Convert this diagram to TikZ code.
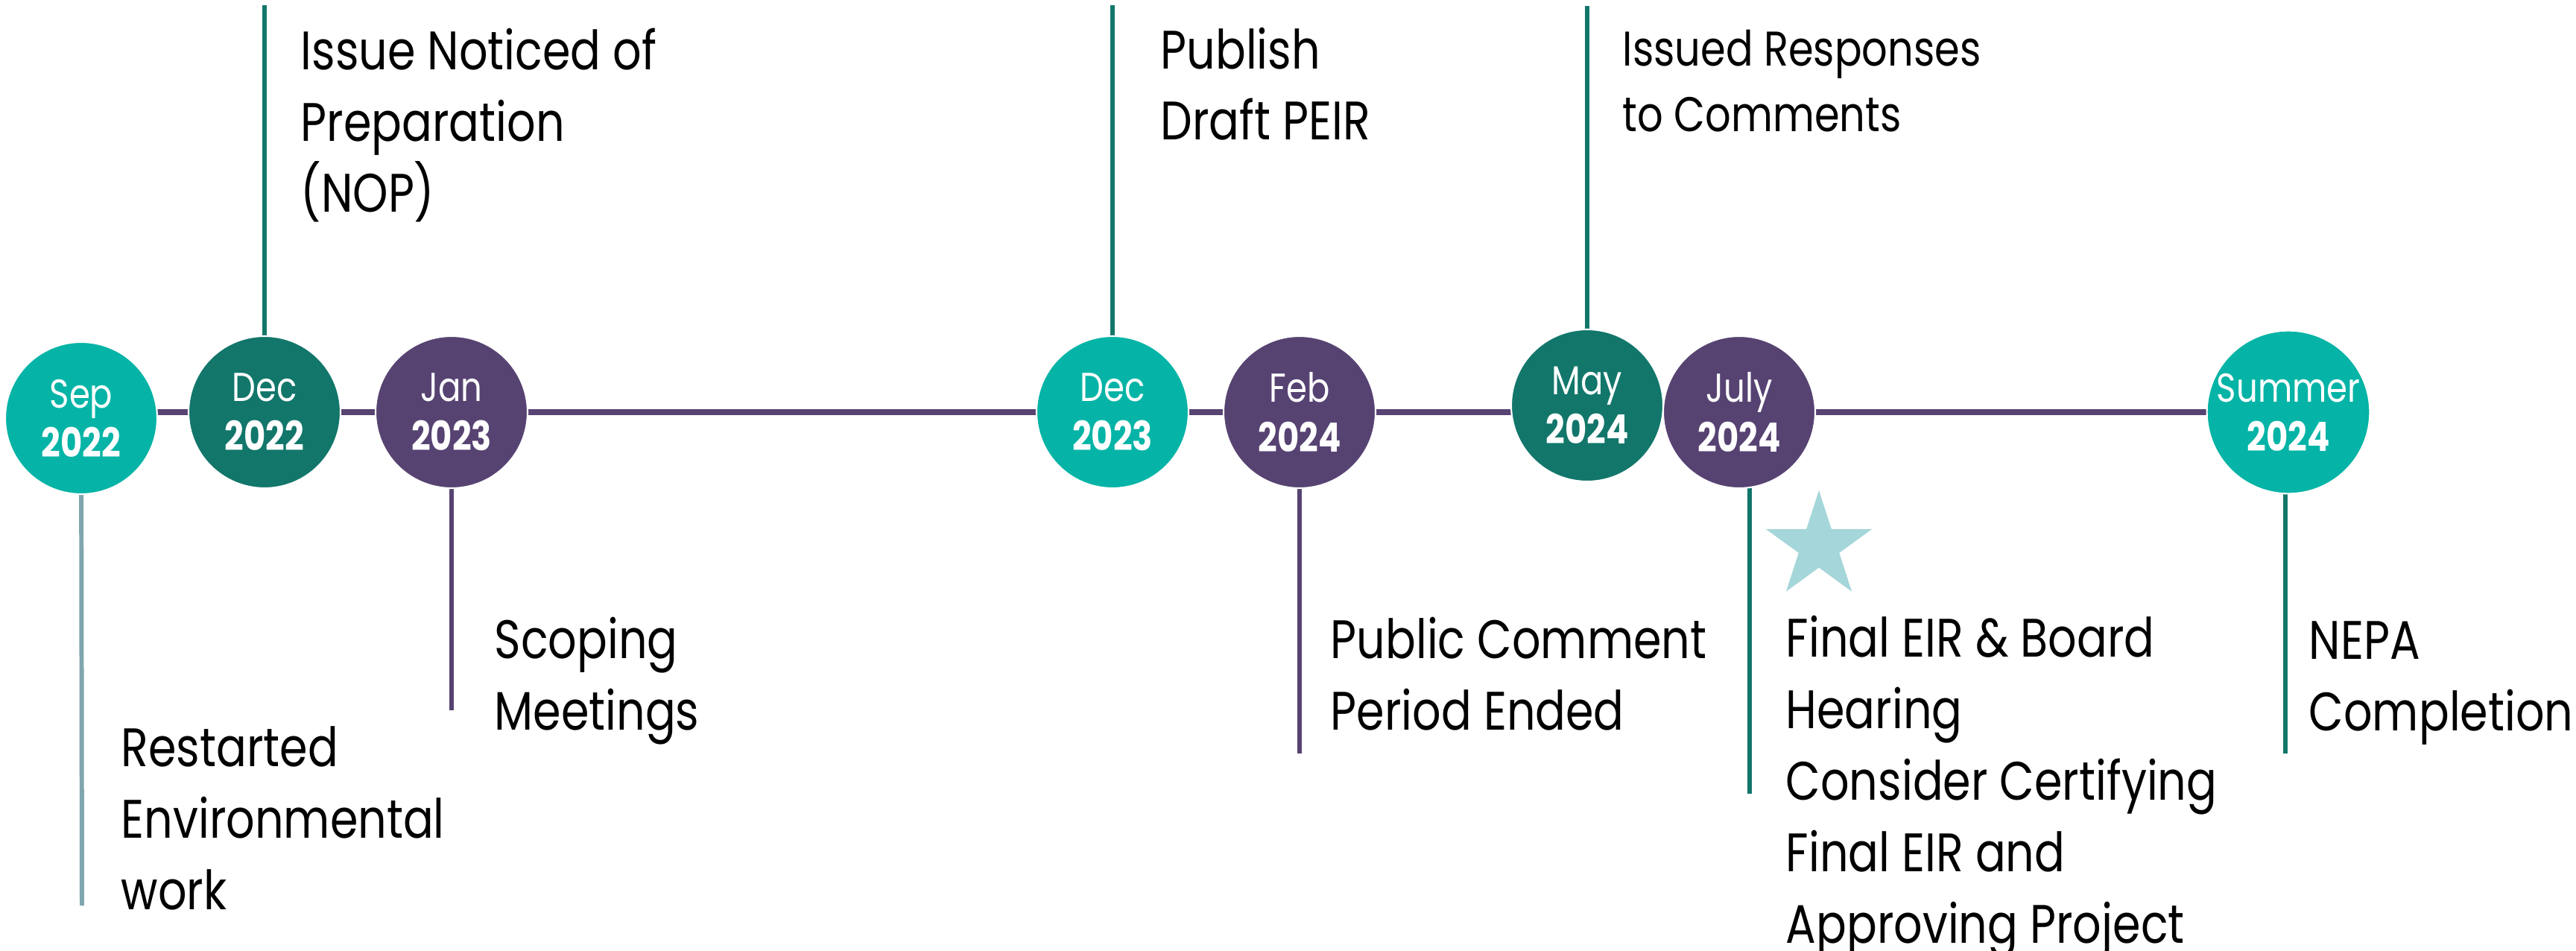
\documentclass[tikz,border=0pt]{standalone}
\usepackage{fontspec}
\setmainfont{Poppins}[FakeStretch=0.83]
\usetikzlibrary{shapes.geometric,backgrounds}
\definecolor{lteal}{HTML}{05B4A6}
\definecolor{dteal}{HTML}{12766B}
\definecolor{plum}{HTML}{574372}
\definecolor{starblue}{HTML}{A5D6D9}
\definecolor{greyteal}{HTML}{7FA6AE}
\tikzset{
  ev/.style={circle,minimum size=2.04cm,inner sep=0pt,draw=white,line width=0.6pt,
    text=white,align=center,font=\fontsize{15.4}{18.8}\selectfont},
  stem/.style={line width=1.7pt},
  note/.style={anchor=base west,align=left,inner sep=0pt,font=\fontsize{20.7}{27.3}\selectfont}
}
\begin{document}
\begin{tikzpicture}
  \useasboundingbox (0,0) rectangle (34.57,12.75);
  \node[ev,fill=lteal] (sep) at (1.09,7.14) {Sep\\\textbf{2022}};
  \node[ev,fill=dteal] (dec22) at (3.55,7.22) {Dec\\\textbf{2022}};
  \node[ev,fill=plum] (jan23) at (6.06,7.22) {Jan\\\textbf{2023}};
  \node[ev,fill=lteal] (dec23) at (14.93,7.22) {Dec\\\textbf{2023}};
  \node[ev,fill=plum] (feb24) at (17.44,7.22) {Feb\\\textbf{2024}};
  \node[ev,fill=dteal] (may24) at (21.30,7.31) {May\\\textbf{2024}};
  \node[ev,fill=plum] (jul24) at (23.34,7.22) {July\\\textbf{2024}};
  \node[ev,fill=lteal] (summer) at (30.71,7.22) {Summer\\\textbf{2024}};
  \coordinate (sepend) at (1.10,0.60);
  \coordinate (dec22end) at (3.55,12.68);
  \coordinate (jan23end) at (6.06,3.22);
  \coordinate (dec23end) at (14.93,12.68);
  \coordinate (feb24end) at (17.44,2.64);
  \coordinate (may24end) at (21.30,12.67);
  \coordinate (jul24end) at (23.48,2.10);
  \coordinate (summerend) at (30.67,2.64);
  \begin{scope}[on background layer]
    \draw[line width=2.4pt,plum] (sep |- dec22) -- (summer);
    \draw[stem,greyteal] (sep) -- (sepend);
    \draw[stem,dteal] (dec22) -- (dec22end);
    \draw[stem,plum] (jan23) -- (jan23end);
    \draw[stem,dteal] (dec23) -- (dec23end);
    \draw[stem,plum] (feb24) -- (feb24end);
    \draw[stem,dteal] (may24) -- (may24end);
    \draw[stem,dteal] (jul24 -| jul24end) -- (jul24end);
    \draw[stem,dteal] (summer -| summerend) -- (summerend);
  \end{scope}
  \node[star,star points=5,star point ratio=2.618,minimum size=1.5cm,inner sep=0pt,fill=starblue] (mark) at (24.41,5.42) {};
  \node[note] (restart) at (1.62,0.55) {Restarted\\Environmental\\work};
  \node[note] (nop) at (4.03,9.90) {Issue Noticed of\\Preparation\\(NOP)};
  \node[note] (scoping) at (6.63,2.96) {Scoping\\Meetings};
  \node[note] (peir) at (15.57,10.87) {Publish\\Draft PEIR};
  \node[note] (comment) at (17.85,2.96) {Public Comment\\Period Ended};
  \node[note,font=\fontsize{18.6}{25.3}\selectfont] (resp) at (21.77,10.98) {Issued Responses\\to Comments};
  \node[note] (final) at (23.96,0.10) {Final EIR \& Board\\Hearing\\Consider Certifying\\Final EIR and\\Approving Project};
  \node[note] (nepa) at (30.98,2.95) {NEPA\\Completion};
\end{tikzpicture}
\end{document}
